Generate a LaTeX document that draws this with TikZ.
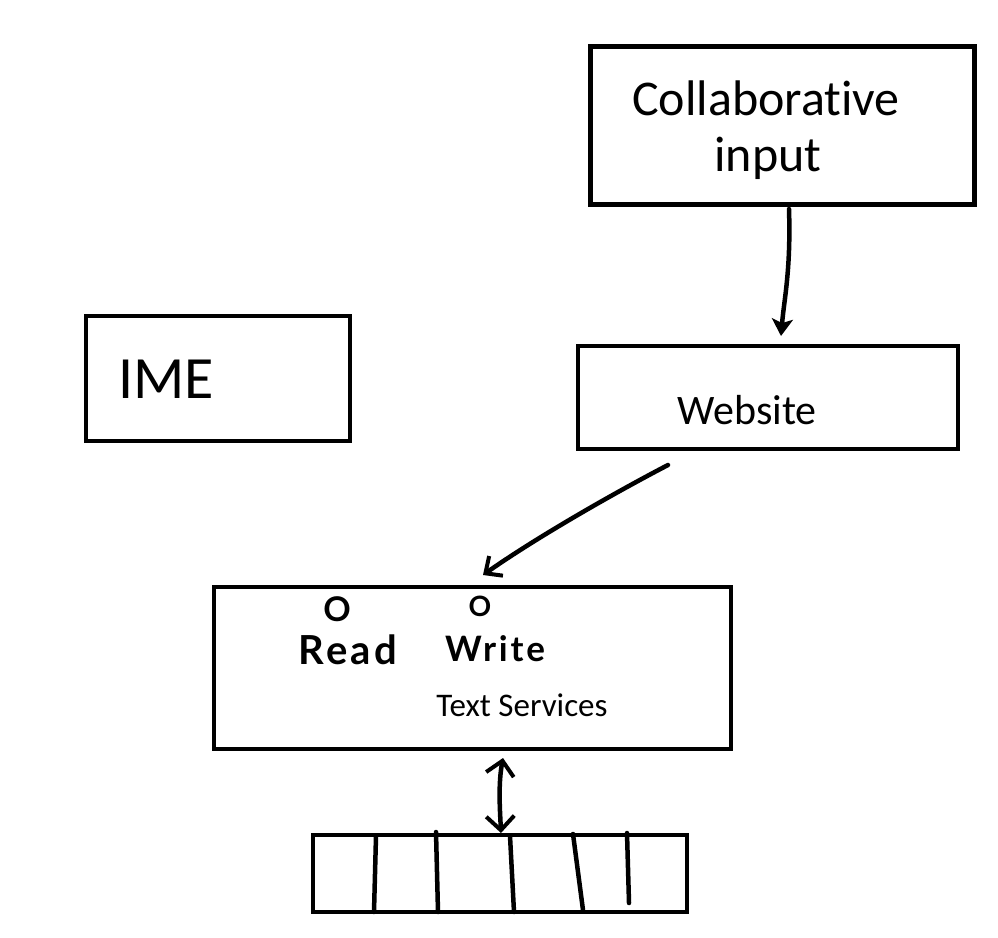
\documentclass[tikz,border=0pt]{standalone}
\usepackage{fontspec}
\setmainfont{Carlito}[Ligatures=NoCommon]
\newfontfamily\hand{Lato}[LetterSpace=8]
\usetikzlibrary{arrows.meta}
\tikzset{
  box/.style={draw=black, line width=4.5pt, rectangle, inner sep=0pt, fill=none},
  lbl/.style={inner sep=0pt, anchor=base, text=black},
  conn/.style={draw=black, line width=4.5pt, line cap=round},
  barb/.style={-{Straight Barb[length=13pt,width=24pt,line width=4pt]}},
  dbarb/.style={{Straight Barb[length=14pt,width=28pt,line width=4pt]}-{Straight Barb[length=14pt,width=28pt,line width=4pt]}},
  fillhead/.style={-{Stealth[length=17pt,width=21pt,inset=4pt]}},
  divider/.style={draw=black, line width=4.5pt, line cap=round},
}
\begin{document}
\begin{tikzpicture}[x=1pt,y=-1pt]
\useasboundingbox (0,0) rectangle (998,937);
\fill[white] (0,0) rectangle (998,937);

% boxes
\node[box, line width=5pt, minimum width=384pt, minimum height=158pt] (collab) at (782,125) {};
\node[box, minimum width=264pt, minimum height=125pt] (ime) at (218,378.5) {};
\node[box, minimum width=380pt, minimum height=103pt] (web) at (768,397.5) {};
\node[box, minimum width=517pt, minimum height=162pt] (ts) at (472.5,668) {};
\node[box, minimum width=374pt, minimum height=77pt] (arr) at (500,873.5) {};

% labels
\node[lbl, font=\fontsize{50}{60}\selectfont] (collabA) at (766,115.6) {Collaborative};
\node[lbl, font=\fontsize{50}{60}\selectfont] (collabB) at (768,171) {input};
\node[lbl, anchor=base west, font=\fontsize{60}{70}\selectfont] (imet) at (118,398) {IME};
\node[lbl, font=\fontsize{42}{50}\selectfont] (webt) at (747,424) {Website};
\node[lbl, font=\fontsize{33}{40}\selectfont] (tst) at (522,716) {Text Services};

% handwritten labels
\node[lbl, font=\hand\bfseries\fontsize{34}{38}\selectfont] (o1) at (337,621) {O};
\node[lbl, font=\hand\bfseries\fontsize{40}{44}\selectfont] (readt) at (348,664) {Read};
\node[lbl, font=\hand\bfseries\fontsize{28}{32}\selectfont] (o2) at (480,616) {O};
\node[lbl, font=\hand\bfseries\fontsize{35}{40}\selectfont] (writet) at (495,661) {Write};

% connector end points
\coordinate (a1s) at (789,209);
\coordinate (a1e) at (781,336);
\coordinate (a2s) at (668,465);
\coordinate (a2e) at (483,575);
\coordinate (a3s) at (503,758);
\coordinate (a3e) at (501,833);

\draw[conn, fillhead] (a1s) .. controls (791,270) and (784,300) .. (a1e);
\draw[conn, barb] (a2s) .. controls (620,490) and (540,535) .. (a2e);
\draw[conn, dbarb] (a3s) .. controls (498,785) and (500,810) .. (a3e);

% array dividers
\coordinate (d1t) at (376,836); \coordinate (d1b) at (374,912);
\coordinate (d2t) at (436,832); \coordinate (d2b) at (438,912);
\coordinate (d3t) at (510,836); \coordinate (d3b) at (514,912);
\coordinate (d4t) at (573,834); \coordinate (d4b) at (583,910);
\coordinate (d5t) at (627,833); \coordinate (d5b) at (629,903);
\draw[divider] (d1t) -- (d1b);
\draw[divider] (d2t) -- (d2b);
\draw[divider] (d3t) -- (d3b);
\draw[divider] (d4t) -- (d4b);
\draw[divider] (d5t) -- (d5b);
\end{tikzpicture}
\end{document}
